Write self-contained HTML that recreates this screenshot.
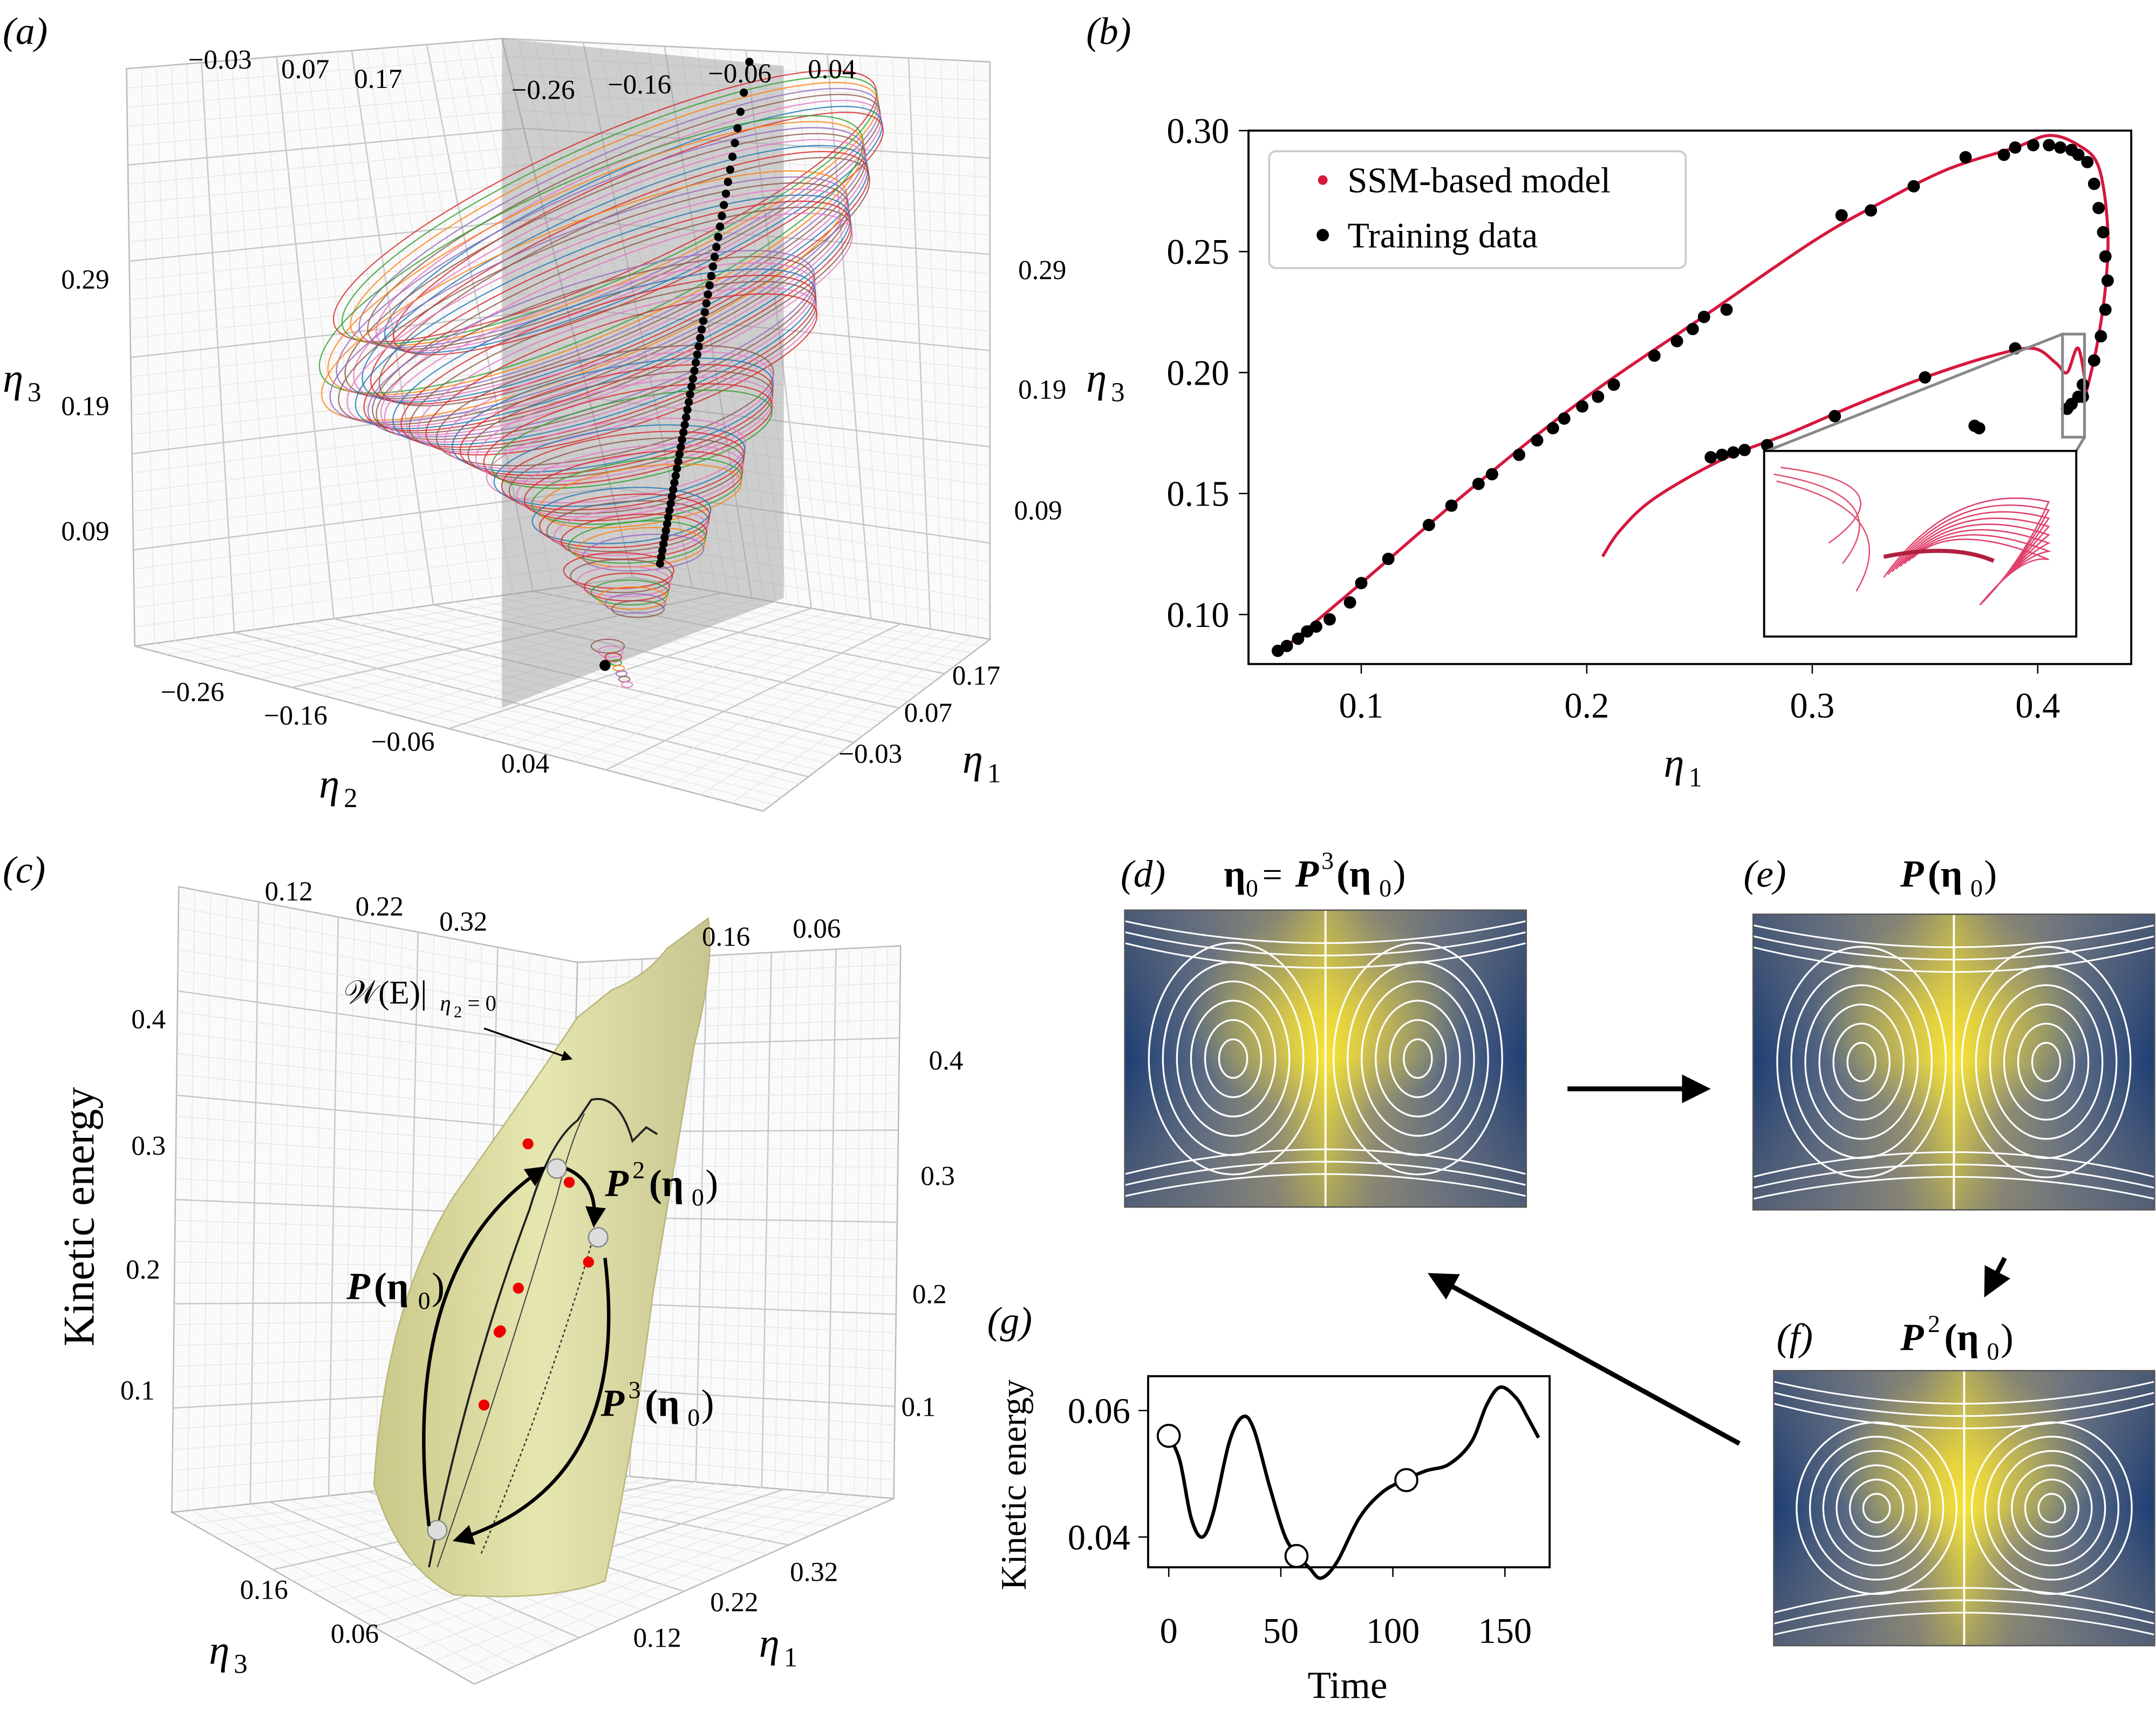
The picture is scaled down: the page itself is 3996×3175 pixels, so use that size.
<!DOCTYPE html>
<html><head><meta charset="utf-8"><style>
html,body{margin:0;padding:0;background:#fff}
svg{display:block}
text{font-family:"Liberation Serif",serif;fill:#000}
</style></head><body>
<svg id="fig" width="3996" height="3175" viewBox="0 0 1568 1246" preserveAspectRatio="none" xmlns="http://www.w3.org/2000/svg">
<defs>
<linearGradient id="flowH" x1="0" x2="1" y1="0" y2="0">
<stop offset="0" stop-color="#1d3d73"/><stop offset="0.2" stop-color="#5a6a84"/><stop offset="0.38" stop-color="#9a9670"/><stop offset="0.5" stop-color="#f2e23a"/><stop offset="0.62" stop-color="#9a9670"/><stop offset="0.8" stop-color="#5a6a84"/><stop offset="1" stop-color="#1d3d73"/>
</linearGradient>
<radialGradient id="flowY" cx="0.5" cy="0.35" r="0.35"><stop offset="0" stop-color="#ffe930" stop-opacity="0.9"/><stop offset="1" stop-color="#ffe930" stop-opacity="0"/></radialGradient>
<linearGradient id="flowV" x1="0" x2="0" y1="0" y2="1"><stop offset="0" stop-color="#777" stop-opacity="0.5"/><stop offset="0.5" stop-color="#777" stop-opacity="0"/><stop offset="1" stop-color="#777" stop-opacity="0.6"/></linearGradient>
<linearGradient id="surf" x1="0" x2="1" y1="0" y2="0"><stop offset="0" stop-color="#c9c98a"/><stop offset="0.5" stop-color="#e6e6b0"/><stop offset="1" stop-color="#c8c690"/></linearGradient>
<marker id="ah" viewBox="0 0 10 10" refX="8" refY="5" markerWidth="6" markerHeight="6" orient="auto"><path d="M0,0L10,5L0,10z" fill="#000"/></marker>
</defs>
<g id="pa"></g>
<g id="pb"></g>
<g id="pc"></g>
<g id="pdef"></g>
<g id="pg"></g>
</svg>
<script>
const NS="http://www.w3.org/2000/svg";
function mk(p,tag,attrs,txt){const e=document.createElementNS(NS,tag);for(const k in attrs)e.setAttribute(k,attrs[k]);if(txt!==undefined)e.textContent=txt;p.appendChild(e);return e;}
function T(p,x,y,s,size,extra,name){const e=mk(p,'text',Object.assign({x:x,y:y,'font-size':size},extra||{}),s);return e;}
function smooth(pts){let d='M'+pts[0][0]+','+pts[0][1];for(let i=0;i<pts.length-1;i++){const p0=pts[Math.max(0,i-1)],p1=pts[i],p2=pts[i+1],p3=pts[Math.min(pts.length-1,i+2)];const c1=[p1[0]+(p2[0]-p0[0])/6,p1[1]+(p2[1]-p0[1])/6],c2=[p2[0]-(p3[0]-p1[0])/6,p2[1]-(p3[1]-p1[1])/6];d+=` C${c1[0]},${c1[1]} ${c2[0]},${c2[1]} ${p2[0]},${p2[1]}`;}return d;}

// ---------- Panel (b) data ----------
const bTrainX=[0.063,0.067,0.072,0.076,0.08,0.086,0.095,0.1,0.112,0.13,0.14,0.152,0.158,0.17,0.178,0.185,0.19,0.198,0.205,0.212,0.23,0.24,0.247,0.252,0.262,0.313,0.326,0.345,0.368,0.385,0.39,0.398,0.405,0.41,0.415,0.418,0.422,0.425,0.427,0.429,0.43,0.431,0.43,0.428,0.425,0.42,0.418,0.415,0.413,0.42,0.372,0.374,0.39,0.35,0.31,0.28,0.265,0.26,0.255,0.27];
const bTrainY=[0.085,0.087,0.09,0.093,0.095,0.098,0.105,0.113,0.123,0.137,0.145,0.154,0.158,0.166,0.172,0.177,0.181,0.186,0.19,0.195,0.207,0.213,0.218,0.223,0.226,0.265,0.267,0.277,0.289,0.29,0.293,0.294,0.294,0.293,0.292,0.29,0.287,0.278,0.268,0.258,0.248,0.238,0.226,0.215,0.205,0.195,0.19,0.187,0.185,0.19,0.178,0.177,0.21,0.198,0.182,0.17,0.167,0.166,0.165,0.168];
const bModelUpX=[0.062,0.1,0.15,0.2,0.25,0.3,0.33,0.36,0.39,0.405,0.418,0.427,0.431,0.43,0.426,0.421];
const bModelUpY=[0.083,0.113,0.153,0.19,0.222,0.254,0.27,0.284,0.293,0.298,0.294,0.285,0.26,0.235,0.21,0.19];
const bModelLoX=[0.207,0.215,0.23,0.26,0.29,0.32,0.35,0.38,0.398,0.408,0.413,0.418,0.422];
const bModelLoY=[0.124,0.135,0.148,0.164,0.175,0.187,0.198,0.207,0.21,0.204,0.2,0.21,0.19];
const bXTicks=[0.1,0.2,0.3,0.4];
const bYTicks=[0.10,0.15,0.20,0.25,0.30];
const bx=v=>826+v*1640, by=v=>95+(0.30-v)*1760;

const pb=document.getElementById('pb');
T(pb,790,32,'(b)',28,{'font-style':'italic'},'panel-b-letter');
mk(pb,'rect',{x:908,y:95,width:642,height:388,fill:'none',stroke:'#000','stroke-width':1.5,});
bXTicks.forEach(v=>{mk(pb,'line',{x1:bx(v),x2:bx(v),y1:483,y2:490,stroke:'#000',});T(pb,bx(v),522,v.toFixed(1),26,{'text-anchor':'middle'},'x-tick-label');});
bYTicks.forEach(v=>{mk(pb,'line',{x1:901,x2:908,y1:by(v),y2:by(v),stroke:'#000',});T(pb,894,by(v)+9,v.toFixed(2),26,{'text-anchor':'end'},'y-tick-label');});
T(pb,1210,565,'η',30,{'font-style':'italic'},'x-axis-title');T(pb,1228,572,'1',20,{},'x-axis-sub');
T(pb,790,285,'η',30,{'font-style':'italic'},'y-axis-title');T(pb,808,292,'3',20,{},'y-axis-sub');
function pts(xs,ys){return xs.map((x,i)=>[bx(x),by(ys[i])]);}
mk(pb,'path',{d:smooth(pts(bModelUpX,bModelUpY)),fill:'none',stroke:'#d6173f','stroke-width':2.2,});
mk(pb,'path',{d:smooth(pts(bModelLoX,bModelLoY)),fill:'none',stroke:'#d6173f','stroke-width':2.2,});
bTrainX.forEach((x,i)=>{const c=mk(pb,'circle',{cx:bx(x),cy:by(bTrainY[i]),r:4.5,fill:'#000'});});
mk(pb,'rect',{x:1500,y:243,width:16,height:75,fill:'none',stroke:'#888','stroke-width':2,});
mk(pb,'line',{x1:1500,y1:243,x2:1285,y2:328,stroke:'#888','stroke-width':2});
mk(pb,'line',{x1:1516,y1:318,x2:1510,y2:328,stroke:'#888','stroke-width':2});
const ins=mk(pb,'g',{});
mk(ins,'rect',{x:1283,y:328,width:227,height:135,fill:'#fff',stroke:'#000','stroke-width':1.5});
[[1290,345,1380,360,1340,410],[1292,350,1385,372,1350,430],[1295,340,1390,352,1330,395]].forEach(a=>mk(ins,'path',{d:`M${a[0]},${a[1]} Q${a[2]},${a[3]} ${a[4]},${a[5]}`,fill:'none',stroke:'#e05070','stroke-width':1}));
for(let k=0;k<8;k++)mk(ins,'path',{d:`M${1370+k*3},${420-k*2} Q${1420},${350+k*4} ${1490},${365+k*6} Q${1470},${410-k} ${1440},${440}`,fill:'none',stroke:'#e0406a','stroke-width':1});
mk(ins,'path',{d:'M1370,405 Q1420,395 1450,408',fill:'none',stroke:'#b02040','stroke-width':3});
const lg=mk(pb,'g',{});
mk(lg,'rect',{x:923,y:110,width:303,height:85,rx:5,fill:'#fff',stroke:'#ccc','stroke-width':1.5});
mk(lg,'circle',{cx:962,cy:131,r:3.5,fill:'#d6173f'});T(lg,980,140,'SSM-based model',26,{},'legend-model');
mk(lg,'circle',{cx:962,cy:171,r:4.5,fill:'#000'});T(lg,980,180,'Training data',26,{},'legend-training');

// ---------- Panel (g) data ----------
const gTime=[0,5,10,15,20,27,33,38,45,52,58,63,68,75,85,95,105,115,125,135,142,148,155,160,165];
const gKE=[0.056,0.052,0.043,0.040,0.044,0.055,0.059,0.057,0.048,0.040,0.037,0.035,0.0335,0.036,0.043,0.047,0.049,0.0505,0.0515,0.055,0.061,0.0637,0.062,0.059,0.0557];
const gMarkT=[0,57,106];
const gMarkV=[0.056,0.037,0.049];
const gXTicks=[0,50,100,150];
const gYTicks=[0.04,0.06];
const gx=v=>850+v*1.63, gy=v=>1026+(0.06-v)*4600;
const pg=document.getElementById('pg');
T(pg,718,970,'(g)',28,{'font-style':'italic'},'panel-g-letter');
mk(pg,'rect',{x:835,y:1001,width:292,height:139,fill:'none',stroke:'#000','stroke-width':1.5,});
gXTicks.forEach(v=>{mk(pg,'line',{x1:gx(v),x2:gx(v),y1:1140,y2:1147,stroke:'#000'});T(pg,gx(v),1195,String(v),26,{'text-anchor':'middle'},'x-tick-label');});
gYTicks.forEach(v=>{mk(pg,'line',{x1:828,x2:835,y1:gy(v),y2:gy(v),stroke:'#000'});T(pg,822,gy(v)+9,v.toFixed(2),26,{'text-anchor':'end'},'y-tick-label');});
T(pg,980,1235,'Time',28,{'text-anchor':'middle'},'x-axis-title');
T(pg,746,1080,'Kinetic energy',26,{'text-anchor':'middle',transform:'rotate(-90 746 1080)'},'y-axis-title');
mk(pg,'path',{d:smooth(gTime.map((t,i)=>[gx(t),gy(gKE[i])])),fill:'none',stroke:'#000','stroke-width':2.5,});
gMarkT.forEach((t,i)=>{const c=mk(pg,'circle',{cx:gx(t),cy:gy(gMarkV[i]),r:8,fill:'#fff',stroke:'#000','stroke-width':1.5});});

// ---------- Panel (a) ----------
const pa=document.getElementById('pa');
T(pa,2,32,'(a)',28,{'font-style':'italic'},'panel-a-letter');
function gridPoly(g,pts,n,m){
 mk(g,'polygon',{points:pts.map(p=>p.join(',')).join(' '),fill:'#fafafa',stroke:'#bbb','stroke-width':1});
 const L=(a,b,t)=>[a[0]+(b[0]-a[0])*t,a[1]+(b[1]-a[1])*t];
 for(let i=1;i<n;i++){const a=L(pts[0],pts[1],i/n),b=L(pts[3],pts[2],i/n);mk(g,'line',{x1:a[0],y1:a[1],x2:b[0],y2:b[1],stroke:i%5?'#e6e6e6':'#c8c8c8','stroke-width':i%5?0.6:1});}
 for(let i=1;i<m;i++){const a=L(pts[0],pts[3],i/m),b=L(pts[1],pts[2],i/m);mk(g,'line',{x1:a[0],y1:a[1],x2:b[0],y2:b[1],stroke:i%5?'#e6e6e6':'#c8c8c8','stroke-width':i%5?0.6:1});}
}
gridPoly(pa,[[92,50],[365,28],[460,420],[98,470]],25,30);
gridPoly(pa,[[365,28],[720,45],[720,465],[460,420]],30,30);
gridPoly(pa,[[98,470],[460,420],[720,465],[555,590]],25,20);
mk(pa,'polygon',{points:'365,28 570,48 570,435 365,515',fill:'#999',opacity:0.45,});
const aCols=['#d62728','#2ca02c','#ff7f0e','#9467bd','#8c564b','#e377c2','#1f77b4','#d62728','#8c564b','#e377c2'];
const aRings=[[440,150,215,50,-24],[430,185,215,55,-24],[425,215,205,52,-22],[430,250,170,45,-18],[440,295,125,36,-12],[448,335,95,28,-8],[452,375,65,20,-4],[450,415,40,13,0],[442,470,12,5,0]];
aRings.forEach((r,k)=>{for(let j=0;j<8;j++){const e=mk(pa,'ellipse',{cx:r[0]+j*2,cy:r[1]+j*4,rx:Math.max(4,r[2]-j*3),ry:Math.max(2,r[3]-j),transform:`rotate(${r[4]} ${r[0]} ${r[1]})`,fill:'none',stroke:aCols[(k+j)%10],'stroke-width':0.9,opacity:0.8});}});
for(let i=0;i<55;i++){const t=Math.pow(i/54,0.7);mk(pa,'circle',{cx:545-t*65,cy:45+t*365,r:3,fill:'#000'});}
mk(pa,'circle',{cx:440,cy:484,r:4,fill:'#000'});
[['−0.03',160,50],['0.07',222,57],['0.17',275,64],['−0.26',395,72],['−0.16',465,68],['−0.06',538,60],['0.04',605,57]].forEach(a=>T(pa,a[1],a[2],a[0],20,{'text-anchor':'middle'},'tick-label'));
[['0.29',62,210],['0.19',62,302],['0.09',62,393]].forEach(a=>T(pa,a[1],a[2],a[0],20,{'text-anchor':'middle'},'tick-label'));
[['0.29',758,203],['0.19',758,290],['0.09',755,378]].forEach(a=>T(pa,a[1],a[2],a[0],20,{'text-anchor':'middle'},'tick-label'));
[['−0.26',140,510],['−0.16',215,527],['−0.06',293,546],['0.04',382,562],['0.17',710,498],['0.07',675,525],['−0.03',633,555]].forEach(a=>T(pa,a[1],a[2],a[0],20,{'text-anchor':'middle'},'tick-label'));
T(pa,2,285,'η',30,{'font-style':'italic'},'z-axis-title');T(pa,20,292,'3',20,{},'sub');
T(pa,232,580,'η',30,{'font-style':'italic'},'eta2-axis-title');T(pa,250,587,'2',20,{},'sub');
T(pa,700,562,'η',30,{'font-style':'italic'},'eta1-axis-title');T(pa,718,569,'1',20,{},'sub');

// ---------- Panel (c) ----------
const pc=document.getElementById('pc');
T(pc,2,642,'(c)',28,{'font-style':'italic'},'panel-c-letter');
gridPoly(pc,[[130,645],[420,700],[410,1070],[125,1100]],25,30);
gridPoly(pc,[[420,700],[655,688],[650,1090],[410,1070]],25,30);
gridPoly(pc,[[125,1100],[410,1070],[650,1090],[345,1225]],20,15);
mk(pc,'path',{d:'M272,1080 Q280,950 330,870 Q380,800 420,740 L445,720 Q470,710 485,690 L515,668 Q520,700 505,760 Q490,850 475,940 Q460,1060 440,1150 Q400,1165 330,1160 Q290,1140 272,1080Z',fill:'url(#surf)',stroke:'#b9b57a','stroke-width':1,});
mk(pc,'path',{d:'M312,1140 Q340,1000 385,880 Q400,830 420,815 L430,800 Q450,795 460,830 L470,820 L478,825',fill:'none',stroke:'#222','stroke-width':1.5});
mk(pc,'path',{d:'M318,1140 Q360,1020 405,870 Q415,830 425,810',fill:'none',stroke:'#444','stroke-width':0.8});
mk(pc,'path',{d:'M350,1130 Q400,1010 430,905',fill:'none',stroke:'#333','stroke-width':1,'stroke-dasharray':'2,2'});
[[384,832],[377,937],[364,968],[363,969],[352,1022],[414,860],[428,918],[318,1113]].forEach(p=>mk(pc,'circle',{cx:p[0],cy:p[1],r:4,fill:'#e00'}));
[[405,850],[435,900],[318,1113]].forEach(p=>mk(pc,'circle',{cx:p[0],cy:p[1],r:7,fill:'#ddd',stroke:'#888'}));
mk(pc,'path',{d:'M312,1110 Q290,920 395,850',fill:'none',stroke:'#000','stroke-width':2.5,'marker-end':'url(#ah)'});
mk(pc,'path',{d:'M412,850 Q435,860 432,890',fill:'none',stroke:'#000','stroke-width':2.5,'marker-end':'url(#ah)'});
mk(pc,'path',{d:'M440,915 Q460,1080 332,1120',fill:'none',stroke:'#000','stroke-width':2.5,'marker-end':'url(#ah)'});
mk(pc,'line',{x1:352,y1:748,x2:415,y2:770,stroke:'#000','stroke-width':1.3,'marker-end':'url(#ah)'});
T(pc,250,730,'𝒲(E)|',24,{},'manifold-label');T(pc,320,735,'η',16,{'font-style':'italic'},'sub');T(pc,330,740,'2',12,{},'sub');T(pc,340,735,'= 0',16,{},'sub');
T(pc,252,945,'P',28,{'font-weight':'bold','font-style':'italic'},'map-label');T(pc,272,945,'(η',28,{'font-weight':'bold'},'map-label');T(pc,304,952,'0',18,{},'sub');T(pc,314,945,')',28,{},'sub');
T(pc,440,870,'P',28,{'font-weight':'bold','font-style':'italic'},'map-label');T(pc,460,857,'2',18,{},'sup');T(pc,472,870,'(η',28,{'font-weight':'bold'},'map-label');T(pc,503,877,'0',18,{},'sub');T(pc,513,870,')',28,{},'sub');
T(pc,437,1030,'P',28,{'font-weight':'bold','font-style':'italic'},'map-label');T(pc,457,1017,'3',18,{},'sup');T(pc,469,1030,'(η',28,{'font-weight':'bold'},'map-label');T(pc,500,1037,'0',18,{},'sub');T(pc,510,1030,')',28,{},'sub');
[['0.12',210,655],['0.22',276,666],['0.32',337,677],['0.16',528,688],['0.06',594,682]].forEach(a=>T(pc,a[1],a[2],a[0],20,{'text-anchor':'middle'},'tick-label'));
[['0.4',108,748],['0.3',108,840],['0.2',104,930],['0.1',100,1018]].forEach(a=>T(pc,a[1],a[2],a[0],20,{'text-anchor':'middle'},'tick-label'));
[['0.4',688,778],['0.3',682,862],['0.2',676,948],['0.1',668,1030]].forEach(a=>T(pc,a[1],a[2],a[0],20,{'text-anchor':'middle'},'tick-label'));
[['0.16',192,1163],['0.06',258,1195],['0.12',478,1198],['0.22',534,1172],['0.32',592,1150]].forEach(a=>T(pc,a[1],a[2],a[0],20,{'text-anchor':'middle'},'tick-label'));
T(pc,68,885,'Kinetic energy',32,{'text-anchor':'middle',transform:'rotate(-90 68 885)'},'y-axis-title');
T(pc,152,1210,'η',30,{'font-style':'italic'},'eta3-axis-title');T(pc,170,1217,'3',20,{},'sub');
T(pc,552,1205,'η',30,{'font-style':'italic'},'eta1-axis-title');T(pc,570,1212,'1',20,{},'sub');

// ---------- Flow panels ----------
const pf=document.getElementById('pdef');
function flow(x,y,w,h,name,type){
 const g=mk(pf,'g',{});
 mk(g,'rect',{x:x,y:y,width:w,height:h,fill:'url(#flowH)'});
 mk(g,'rect',{x:x,y:y,width:w,height:h,fill:'url(#flowY)'});
 mk(g,'rect',{x:x,y:y,width:w,height:h,fill:'url(#flowV)'});
 const cx=[x+w*0.27,x+w*0.73],cy=y+h*0.5;
 cx.forEach(c=>{for(let k=1;k<=6;k++){mk(g,'ellipse',{cx:c,cy:cy,rx:w*0.035*k,ry:h*0.065*k*(type==2?0.8:1),fill:'none',stroke:'#fff','stroke-width':1.3});}});
 mk(g,'line',{x1:x+w/2,y1:y,x2:x+w/2,y2:y+h,stroke:'#fff','stroke-width':1.5});
 for(let k=0;k<3;k++){mk(g,'path',{d:`M${x},${y+8+k*8} Q${x+w/2},${y+40+k*10} ${x+w},${y+8+k*8}`,fill:'none',stroke:'#fff','stroke-width':1.2});mk(g,'path',{d:`M${x},${y+h-8-k*8} Q${x+w/2},${y+h-40-k*10} ${x+w},${y+h-8-k*8}`,fill:'none',stroke:'#fff','stroke-width':1.2});}
 mk(g,'rect',{x:x,y:y,width:w,height:h,fill:'none',stroke:'#555','stroke-width':1});
}
flow(818,662,292,216,'flow-field-d',1);
flow(1275,665,292,215,'flow-field-e',0);
flow(1290,997,277,200,'flow-field-f',2);
T(pf,815,645,'(d)',28,{'font-style':'italic'},'panel-d-letter');
T(pf,890,645,'η',28,{'font-weight':'bold'},'d-title');T(pf,906,652,'0',18,{},'sub');T(pf,918,645,'= ',26,{},'d-title');T(pf,942,645,'P',28,{'font-weight':'bold','font-style':'italic'},'d-title');T(pf,961,632,'3',18,{},'sup');T(pf,972,645,'(η',28,{'font-weight':'bold'},'d-title');T(pf,1003,652,'0',18,{},'sub');T(pf,1013,645,')',28,{},'d-title');
T(pf,1268,645,'(e)',28,{'font-style':'italic'},'panel-e-letter');
T(pf,1382,645,'P',28,{'font-weight':'bold','font-style':'italic'},'e-title');T(pf,1402,645,'(η',28,{'font-weight':'bold'},'e-title');T(pf,1433,652,'0',18,{},'sub');T(pf,1443,645,')',28,{},'e-title');
T(pf,1292,982,'(f)',28,{'font-style':'italic'},'panel-f-letter');
T(pf,1382,982,'P',28,{'font-weight':'bold','font-style':'italic'},'f-title');T(pf,1402,969,'2',18,{},'sup');T(pf,1414,982,'(η',28,{'font-weight':'bold'},'f-title');T(pf,1445,989,'0',18,{},'sub');T(pf,1455,982,')',28,{},'f-title');
mk(pf,'line',{x1:1140,y1:792,x2:1240,y2:792,stroke:'#000','stroke-width':3.5,'marker-end':'url(#ah)',});
mk(pf,'line',{x1:1458,y1:915,x2:1445,y2:940,stroke:'#000','stroke-width':3.5,'marker-end':'url(#ah)',});
mk(pf,'line',{x1:1265,y1:1050,x2:1042,y2:928,stroke:'#000','stroke-width':3.5,'marker-end':'url(#ah)',});
</script>
</body></html>
